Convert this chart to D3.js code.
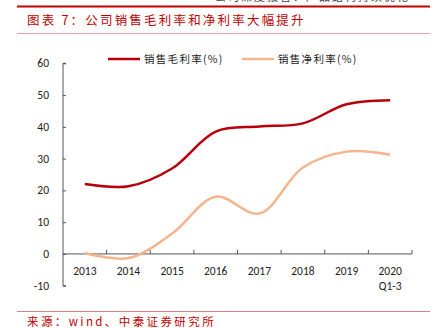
<!DOCTYPE html>
<html>
<head>
<meta charset="utf-8">
<script src="https://cdn.jsdelivr.net/npm/d3@7"></script>
<style>
  body { margin: 0; background: #fff; }
  svg { display: block; }
</style>
</head>
<body>
<script>
// chart data
const years = ['2013', '2014', '2015', '2016', '2017', '2018', '2019', '2020\nQ1-3']
const grossMargin = [22.0, 21.3, 26.9, 38.5, 40.1, 41.1, 47.1, 48.4]
const netMargin = [0.3, -1.3, 6.4, 18.0, 12.7, 27.2, 32.2, 31.2]
const yTicks = [-10, 0, 10, 20, 30, 40, 50, 60]
const seriesNames = ['销售毛利率(%)', '销售净利率(%)']
const colors = ['#b8000b', '#f5b48c']

const width = 444, height = 328
const margin = {top: 63.3, left: 63, right: 32, bottom: 42.3}

const svg = d3.select('body')
  .append('svg')
  .attr('width', width)
  .attr('height', height)

const cjk = '"Noto Sans CJK SC", "Noto Sans", sans-serif'

/* page decoration: header rule, title, source */
svg.append('text')
  .attr('x', 215).attr('y', 1)
  .attr('font-family', cjk).attr('font-size', 11)
  .attr('fill', '#444')
  .attr('letter-spacing', 2)
  .text('公司深度报告：产品结构持续优化')

svg.append('line')
  .attr('x1', 17).attr('x2', 430).attr('y1', 6.5).attr('y2', 6.5)
  .attr('stroke', '#c00000').attr('stroke-width', 2)

svg.append('text')
  .attr('x', 27).attr('y', 25)
  .attr('font-family', cjk).attr('font-size', 12.5)
  .attr('fill', '#c00000')
  .attr('letter-spacing', 2.2)
  .text('图表 7：公司销售毛利率和净利率大幅提升')

svg.append('line')
  .attr('x1', 17).attr('x2', 430).attr('y1', 33.5).attr('y2', 33.5)
  .attr('stroke', '#f0a0a0').attr('stroke-width', 1)

svg.append('line')
  .attr('x1', 17).attr('x2', 430).attr('y1', 311.5).attr('y2', 311.5)
  .attr('stroke', '#e08080').attr('stroke-width', 1)

svg.append('text')
  .attr('x', 27).attr('y', 326)
  .attr('font-family', cjk).attr('font-size', 11.5)
  .attr('fill', '#c00000')
  .attr('letter-spacing', 2.4)
  .text('来源：wind、中泰证券研究所')

/* scales */
const x = d3.scaleBand()
  .domain(years)
  .range([margin.left, width - margin.right])

const y = d3.scaleLinear()
  .domain([-10, 60])
  .range([height - margin.bottom, margin.top])

/* y axis */
const yAxis = svg.append('g')
  .attr('transform', `translate(${margin.left},0)`)
  .call(d3.axisRight(y).tickValues(yTicks).tickSize(3).tickFormat(''))
yAxis.select('.domain').attr('stroke', '#555').attr('d', `M3,${y(60)}H0V${y(-10)}H3`)
yAxis.selectAll('line').attr('stroke', '#555')

svg.append('g')
  .selectAll('text')
  .data(yTicks)
  .enter().append('text')
  .attr('x', 49)
  .attr('y', d => y(d) + 4)
  .attr('text-anchor', 'end')
  .attr('font-family', 'Carlito, "Liberation Sans", sans-serif')
  .attr('font-size', 11.5)
  .attr('fill', '#222')
  .text(d => d)

/* x axis at zero, ticks between categories */
const xAxis = svg.append('g')
  .attr('transform', `translate(0,${y(0)})`)
xAxis.append('line')
  .attr('x1', margin.left).attr('x2', width - margin.right)
  .attr('stroke', '#555')
xAxis.selectAll('.tick')
  .data(years.slice(1).concat(['end']))
  .enter().append('line')
  .attr('x1', d => d === 'end' ? x.range()[1] : x(d))
  .attr('x2', d => d === 'end' ? x.range()[1] : x(d))
  .attr('y1', 0).attr('y2', -4)
  .attr('stroke', '#555')

const xLabels = svg.append('g')
  .selectAll('text')
  .data(years)
  .enter().append('text')
  .attr('x', d => x(d) + x.bandwidth() / 2)
  .attr('y', 275)
  .attr('text-anchor', 'middle')
  .attr('font-family', 'Carlito, "Liberation Sans", sans-serif')
  .attr('font-size', 11.5)
  .attr('fill', '#222')
xLabels.selectAll('tspan')
  .data(d => d.split('\n').map(t => ({t, d})))
  .enter().append('tspan')
  .attr('x', p => x(p.d) + x.bandwidth() / 2)
  .attr('dy', (p, i) => i ? 15 : 0)
  .text(p => p.t)

/* lines */
const line = d3.line()
  .x((d, i) => x(years[i]) + x.bandwidth() / 2)
  .y(d => y(d))
  .curve(d3.curveCatmullRom.alpha(0.5))

;[grossMargin, netMargin].forEach((vals, i) => {
  svg.append('path')
    .datum(vals)
    .attr('fill', 'none')
    .attr('stroke', colors[i])
    .attr('stroke-width', 2.5)
    .attr('d', line)
})

/* legend */
const legendX = [108, 242]
seriesNames.forEach((name, i) => {
  svg.append('line')
    .attr('x1', legendX[i]).attr('x2', legendX[i] + 32)
    .attr('y1', 59).attr('y2', 59)
    .attr('stroke', colors[i]).attr('stroke-width', 2.5)
  svg.append('text')
    .attr('x', legendX[i] + 36).attr('y', 63)
    .attr('font-family', cjk).attr('font-size', 10.5)
    .attr('fill', '#222')
    .attr('letter-spacing', 1.3)
    .text(name)
})
</script>
</body>
</html>
